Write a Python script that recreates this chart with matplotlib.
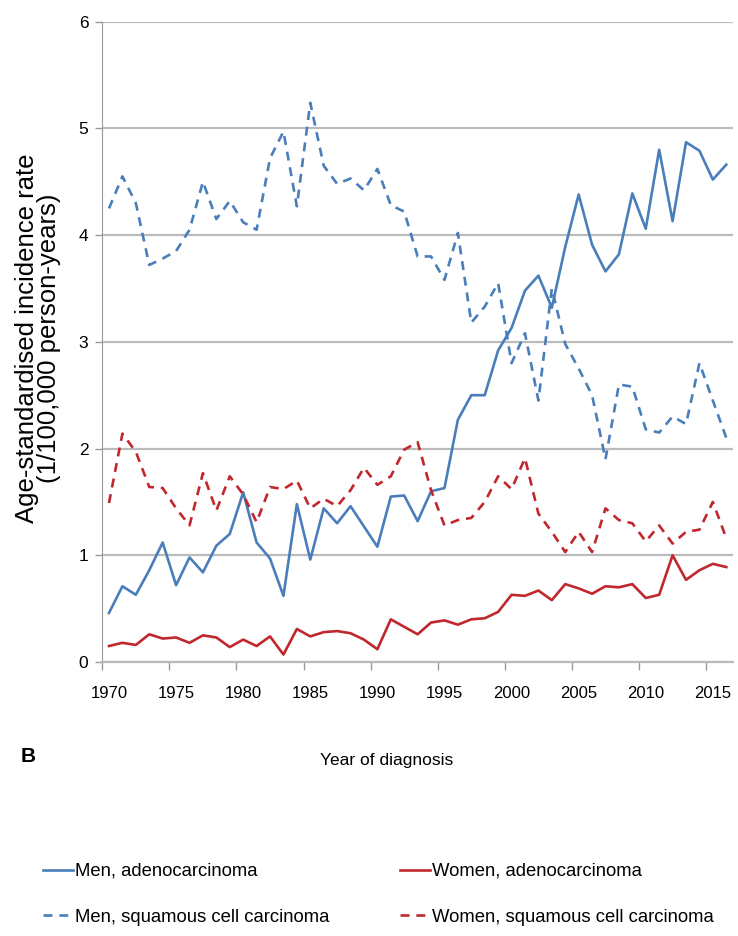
import numpy as np
import matplotlib
matplotlib.use('Agg')
import matplotlib.pyplot as plt

# incidence rates per 100,000 person-years
years = list(range(1970, 2017))
men_adeno = [0.46, 0.71, 0.63, 0.86, 1.12, 0.72, 0.98, 0.84, 1.09, 1.20,
             1.59, 1.12, 0.97, 0.62, 1.48, 0.96, 1.44, 1.30, 1.46, 1.27,
             1.08, 1.55, 1.56, 1.32, 1.60, 1.63, 2.27, 2.50, 2.50, 2.92,
             3.13, 3.48, 3.62, 3.32, 3.89, 4.38, 3.91, 3.66, 3.82, 4.39,
             4.06, 4.80, 4.13, 4.87, 4.79, 4.52, 4.66]
men_squam = [4.25, 4.55, 4.30, 3.72, 3.78, 3.85, 4.05, 4.50, 4.15, 4.32,
             4.12, 4.05, 4.72, 4.97, 4.27, 5.24, 4.65, 4.48, 4.53, 4.42,
             4.62, 4.28, 4.22, 3.80, 3.80, 3.58, 4.02, 3.18, 3.33, 3.55,
             2.80, 3.08, 2.45, 3.50, 2.98, 2.75, 2.50, 1.90, 2.60, 2.58,
             2.18, 2.15, 2.30, 2.23, 2.80, 2.45, 2.10]
women_adeno = [0.15, 0.18, 0.16, 0.26, 0.22, 0.23, 0.18, 0.25, 0.23, 0.14,
               0.21, 0.15, 0.24, 0.07, 0.31, 0.24, 0.28, 0.29, 0.27, 0.21,
               0.12, 0.40, 0.33, 0.26, 0.37, 0.39, 0.35, 0.40, 0.41, 0.47,
               0.63, 0.62, 0.67, 0.58, 0.73, 0.69, 0.64, 0.71, 0.70, 0.73,
               0.60, 0.63, 1.00, 0.77, 0.86, 0.92, 0.89]
women_squam = [1.49, 2.14, 1.97, 1.64, 1.63, 1.44, 1.28, 1.77, 1.42, 1.74,
               1.57, 1.31, 1.64, 1.62, 1.70, 1.44, 1.53, 1.46, 1.61, 1.82,
               1.66, 1.74, 1.99, 2.06, 1.61, 1.28, 1.33, 1.35, 1.50, 1.74,
               1.62, 1.91, 1.39, 1.22, 1.03, 1.22, 1.03, 1.44, 1.33, 1.30,
               1.13, 1.28, 1.11, 1.22, 1.24, 1.50, 1.16]
tick_years = [1970, 1975, 1980, 1985, 1990, 1995, 2000, 2005, 2010, 2015]

labels = ['Men, adenocarcinoma', 'Men, squamous cell carcinoma',
          'Women, adenocarcinoma', 'Women, squamous cell carcinoma']

blue = '#4A7EBB'
red = '#C0282D'
grid_grey = '#BBBBBB'

plt.rcParams['font.family'] = ['Liberation Sans', 'DejaVu Sans']

fig = plt.figure(figsize=(7.38, 9.36), dpi=100)
ax = fig.add_axes([0.1386, 0.2927, 0.8546, 0.6842])

# category axis: each year sits in the middle of its slot
pos = np.arange(len(years)) + 0.5
dash = (0, (3.4, 2.6))
h1, = ax.plot(pos, men_adeno, color=blue, lw=1.9)
h2, = ax.plot(pos, men_squam, color=blue, lw=1.9, ls=dash)
h3, = ax.plot(pos, women_adeno, color=red, lw=1.9)
h4, = ax.plot(pos, women_squam, color=red, lw=1.9, ls=dash)

ax.set_xlim(0, len(years))
ax.set_ylim(0, 6)

slot = [years.index(y) for y in tick_years]
ax.set_xticks(slot)
ax.set_xticklabels([])
ax.set_xticks([s + 0.5 for s in slot], minor=True)
ax.set_xticklabels([str(y) for y in tick_years], minor=True, fontsize=12)
ax.tick_params(axis='x', which='major', length=6, width=1, color='#999999', direction='out')
ax.tick_params(axis='x', which='minor', length=0, pad=17)

ax.set_yticks(range(0, 7))
ax.set_yticklabels([str(v) for v in range(0, 7)], fontsize=12.5)
ax.tick_params(axis='y', length=5, width=1, color='#999999', pad=5)

ax.yaxis.grid(True, color=grid_grey, lw=1.6)
ax.set_axisbelow(True)
for s in ['top', 'right']:
    ax.spines[s].set_visible(False)
ax.spines['left'].set_color('#999999')
ax.spines['bottom'].set_color(grid_grey)
ax.spines['bottom'].set_linewidth(1.6)

fig.text(38 / 738, 1 - 338 / 936,
         'Age-standardised incidence rate\n(1/100,000 person-years)',
         rotation=90, ha='center', va='center', fontsize=18.5,
         linespacing=0.92)
fig.text(387 / 738, 1 - 760 / 936, 'Year of diagnosis',
         ha='center', va='center', fontsize=12.5)
fig.text(21 / 738, 1 - 757 / 936, 'B', ha='left', va='center',
         fontsize=15, fontweight='bold')

# two legend columns
leg_kw = dict(loc='upper left', frameon=False, fontsize=13.3, handlelength=1.6,
              handletextpad=0.15, labelspacing=1.55, borderpad=0, borderaxespad=0)
fig.legend([h1, h2], labels[:2], bbox_to_anchor=(43 / 738, 1 - 863 / 936), **leg_kw)
fig.legend([h3, h4], labels[2:], bbox_to_anchor=(400 / 738, 1 - 863 / 936), **leg_kw)

fig.savefig('out.png', dpi=100)
